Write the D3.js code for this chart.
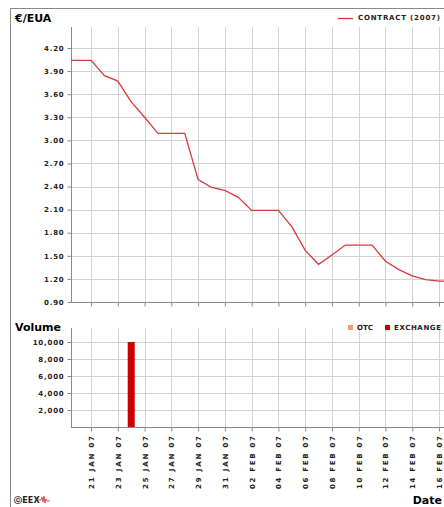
<!DOCTYPE html>
<html lang="en">
<head>
    <meta charset="UTF-8">
    <title>EUA Contract 2007</title>
    <script src="https://d3js.org/d3.v7.min.js"></script>
    <style>
        body { margin: 0; background: #fff; }
        .tick-label { font-family: "DejaVu Sans", sans-serif; font-size: 7px; font-weight: bold; fill: #222; letter-spacing: 0.8px; }
        .title { font-family: "DejaVu Sans", sans-serif; font-size: 11px; font-weight: bold; fill: #000; }
        .grid line { stroke: #d2d2d2; stroke-width: 1; shape-rendering: crispEdges; }
        .axisline { stroke: #8a8a8a; stroke-width: 1; shape-rendering: crispEdges; }
    </style>
</head>
<body>
<div id="chart"></div>
<script>
    // price series (daily, weekends carried flat)
    const priceDates = ["2007-01-19","2007-01-20","2007-01-21","2007-01-22","2007-01-23","2007-01-24","2007-01-25",
        "2007-01-26","2007-01-27","2007-01-28","2007-01-29","2007-01-30","2007-01-31","2007-02-01","2007-02-02",
        "2007-02-03","2007-02-04","2007-02-05","2007-02-06","2007-02-07","2007-02-08","2007-02-09","2007-02-10",
        "2007-02-11","2007-02-12","2007-02-13","2007-02-14","2007-02-15","2007-02-16","2007-02-17"];
    const priceValues = [4.04, 4.04, 4.04, 3.84, 3.77, 3.50, 3.30,
        3.09, 3.09, 3.09, 2.49, 2.39, 2.35, 2.26, 2.09,
        2.09, 2.09, 1.88, 1.57, 1.39, 1.51, 1.64, 1.64,
        1.64, 1.43, 1.32, 1.24, 1.19, 1.17, 1.17];

    const volumeDates = ["2007-01-24"];
    const volumeExchange = [10000];

    const priceTicks = [0.90, 1.20, 1.50, 1.80, 2.10, 2.40, 2.70, 3.00, 3.30, 3.60, 3.90, 4.20];
    const volumeTicks = [2000, 4000, 6000, 8000, 10000];
    const dateTicks = ["2007-01-21","2007-01-23","2007-01-25","2007-01-27","2007-01-29","2007-01-31","2007-02-02",
        "2007-02-04","2007-02-06","2007-02-08","2007-02-10","2007-02-12","2007-02-14","2007-02-16"];

    const W = 444, H = 507;
    const parse = d3.utcParse("%Y-%m-%d");
    const fmtDate = d => d3.utcFormat("%d %b %y")(d).toUpperCase();

    const svg = d3.select("#chart").append("svg")
        .attr("width", W).attr("height", H);

    const x = d3.scaleUtc()
        .domain([new Date(Date.UTC(2007, 0, 19, 12)), new Date(Date.UTC(2007, 1, 16, 9))])
        .range([71, 444]);

    const yP = d3.scaleLinear().domain([0.9, 4.2]).range([302, 48]);
    const yV = d3.scaleLinear().domain([0, 10000]).range([427, 342]);

    const pTop = 27, pBot = 302, vTop = 328, vBot = 427;

    // outer frame
    svg.append("path").attr("class", "axisline").attr("fill", "none")
        .attr("d", `M10.5,${H}V8.5H${W}`);

    svg.append("clipPath").attr("id", "clipP")
        .append("rect").attr("x", 71).attr("y", pTop).attr("width", W - 71).attr("height", pBot - pTop);

    function panel(y, ticks, fmt, top, bot) {
        const g = svg.append("g").attr("class", "grid");
        g.selectAll(".h").data(ticks).join("line")
            .attr("x1", 71).attr("x2", W)
            .attr("y1", d => Math.round(y(d)) + 0.5).attr("y2", d => Math.round(y(d)) + 0.5);
        g.selectAll(".v").data(dateTicks.map(parse)).join("line")
            .attr("y1", top).attr("y2", bot)
            .attr("x1", d => Math.round(x(d)) + 0.5).attr("x2", d => Math.round(x(d)) + 0.5);

        // left axis
        const ax = svg.append("g").attr("transform", "translate(71.5,0)")
            .call(d3.axisLeft(y).tickValues(ticks).tickFormat(fmt).tickSize(4).tickPadding(3));
        ax.select(".domain").remove();
        ax.selectAll(".tick line").attr("stroke", "#8a8a8a");
        ax.selectAll(".tick text").attr("class", "tick-label").attr("font-family", null).attr("font-size", null);
        svg.append("line").attr("class", "axisline")
            .attr("x1", 71.5).attr("x2", 71.5).attr("y1", top).attr("y2", bot + 0.5);

        // bottom axis
        const bx = svg.append("g").attr("transform", `translate(0,${bot + 0.5})`)
            .call(d3.axisBottom(x).tickValues(dateTicks.map(parse)).tickSize(4).tickFormat(""));
        bx.select(".domain").remove();
        bx.selectAll(".tick line").attr("stroke", "#8a8a8a");
        svg.append("line").attr("class", "axisline")
            .attr("x1", 71).attr("x2", W).attr("y1", bot + 0.5).attr("y2", bot + 0.5);
    }

    panel(yP, priceTicks, d3.format(".2f"), pTop, pBot);
    panel(yV, volumeTicks, d3.format(","), vTop, vBot);

    // price line
    const priceData = priceDates.map((d, i) => ({ date: parse(d), value: priceValues[i] }));
    svg.append("path")
        .datum(priceData)
        .attr("clip-path", "url(#clipP)")
        .attr("fill", "none")
        .attr("stroke", "#d83a3a")
        .attr("stroke-width", 1.3)
        .attr("d", d3.line().x(d => x(d.date)).y(d => yP(d.value)));

    // volume bars
    const volData = volumeDates.map((d, i) => ({ date: parse(d), value: volumeExchange[i] }));
    svg.selectAll(".bar").data(volData).join("rect")
        .attr("x", d => x(d.date) - 3.5)
        .attr("width", 7)
        .attr("y", d => yV(d.value))
        .attr("height", d => vBot - yV(d.value))
        .attr("fill", "#cc0000");

    // date labels
    svg.append("g").selectAll("text").data(dateTicks.map(parse)).join("text")
        .attr("class", "tick-label")
        .attr("transform", d => `translate(${Math.round(x(d)) + 0.5},436) rotate(-90)`)
        .attr("text-anchor", "end")
        .attr("dy", "0.35em")
        .attr("textLength", 53)
        .attr("lengthAdjust", "spacing")
        .style("letter-spacing", "0px")
        .text(fmtDate);

    // titles
    svg.append("text").attr("class", "title").attr("x", 15).attr("y", 22).text("€/EUA");
    svg.append("text").attr("class", "title").attr("x", 15).attr("y", 331).text("Volume");
    svg.append("text").attr("class", "title").attr("x", 442).attr("y", 504).attr("text-anchor", "end").text("Date");

    // legends
    svg.append("line").attr("x1", 338).attr("x2", 353).attr("y1", 18.5).attr("y2", 18.5)
        .attr("stroke", "#d83a3a").attr("stroke-width", 1.3);
    svg.append("text").attr("class", "tick-label").attr("x", 358).attr("y", 18).attr("dy", "0.35em")
        .attr("textLength", 82).attr("lengthAdjust", "spacing")
        .style("letter-spacing", "0px").text("CONTRACT (2007)");

    const legV = [
        { label: "OTC", color: "#f79b6c", x: 348, w: 16 },
        { label: "EXCHANGE", color: "#cc0000", x: 385, w: 47 }
    ];
    legV.forEach(l => {
        svg.append("rect").attr("x", l.x).attr("y", 325).attr("width", 5).attr("height", 5).attr("fill", l.color);
        svg.append("text").attr("class", "tick-label").attr("x", l.x + 9).attr("y", 327.5).attr("dy", "0.35em")
            .attr("textLength", l.w).attr("lengthAdjust", "spacing")
            .style("letter-spacing", "0px").text(l.label);
    });

    // EEX logo
    const logo = svg.append("g").attr("transform", "translate(14,500)");
    logo.append("text").attr("class", "tick-label").attr("y", 0).attr("dy", "0.35em").style("font-size", "8px")
        .style("letter-spacing", "0.2px").text("ⓒEEX");
    logo.append("path").attr("fill", "none").attr("stroke", "#e02020").attr("stroke-width", 0.8)
        .attr("d", "M24,0h3l1,-3l1,5l1,-6l1,7l1,-4l1,2h3");
</script>
</body>
</html>
